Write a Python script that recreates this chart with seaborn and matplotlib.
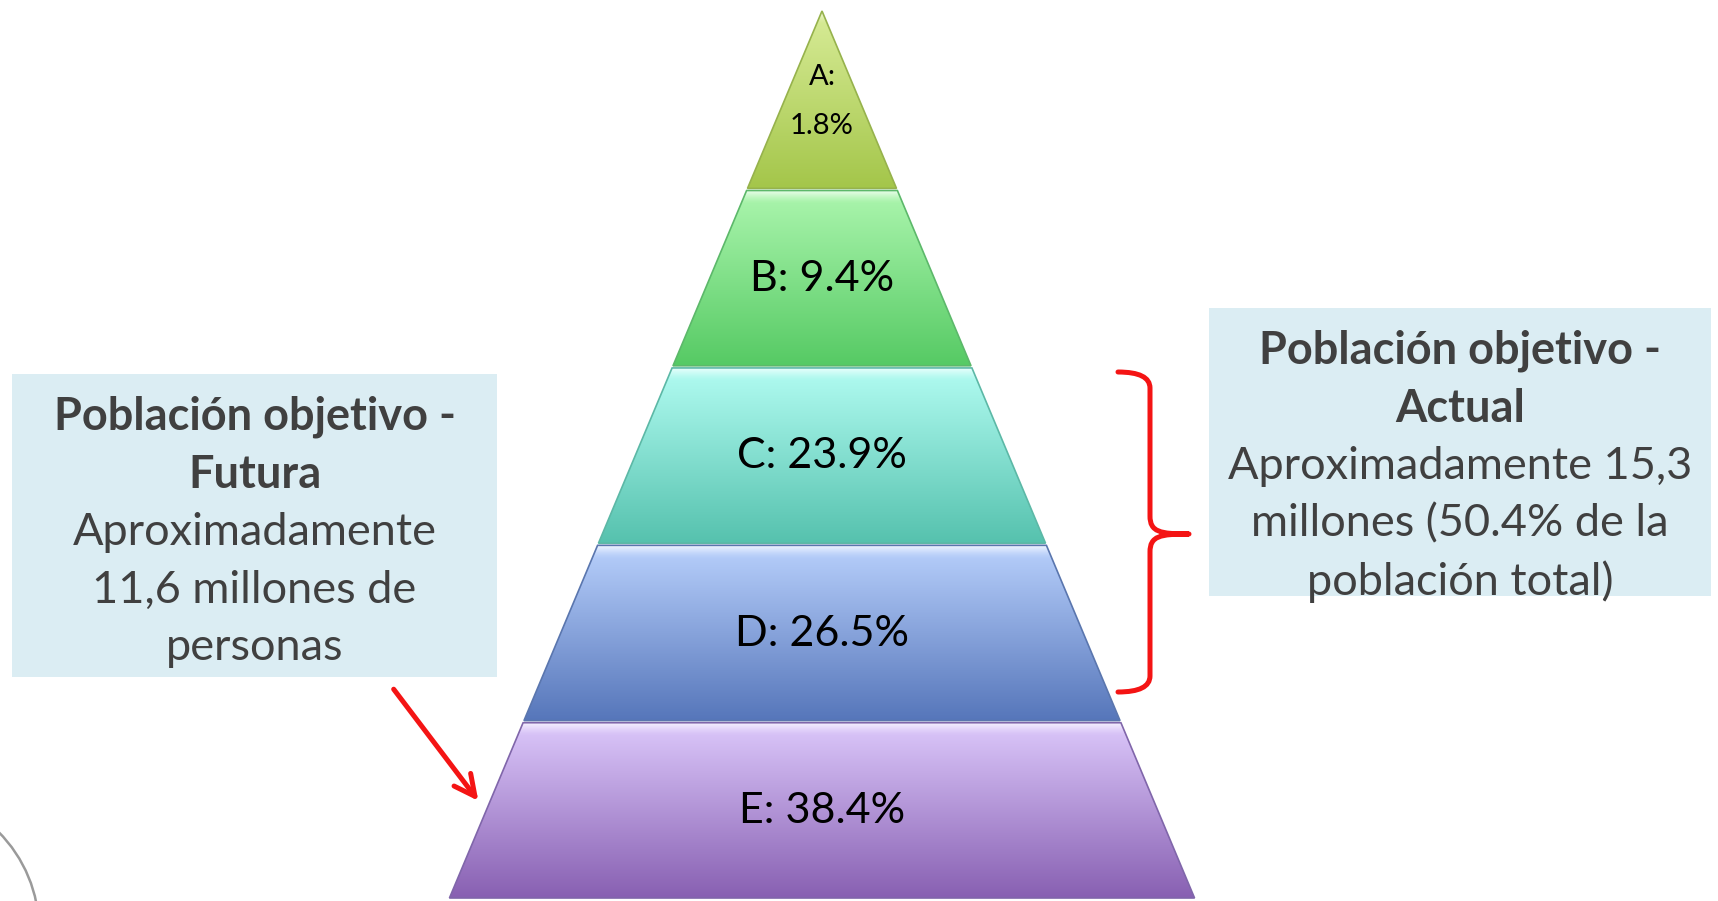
import numpy as np
import matplotlib
matplotlib.use("Agg")
import matplotlib.pyplot as plt
import seaborn as sns
from matplotlib.patches import Polygon, Rectangle, Circle, FancyArrowPatch, PathPatch
from matplotlib.path import Path

# ---------------- data ----------------
categories = ["A", "B", "C", "D", "E"]
values = [1.8, 9.4, 23.9, 26.5, 38.4]
top_colors = ["#d8ec98", "#acf6ae", "#b2fcf2", "#b8d0fc", "#dcc8fb"]
bottom_colors = ["#a4c64a", "#56ca64", "#56c2ae", "#5676ba", "#8860b2"]
edge_colors = ["#96b24c", "#5cb86a", "#5cb8a6", "#5a76ae", "#8066aa"]

left_title = ["Población objetivo -", "Futura"]
left_body = ["Aproximadamente", "11,6 millones de", "personas"]
right_title = ["Población objetivo -", "Actual"]
right_body = ["Aproximadamente 15,3", "millones (50.4% de la", "población total)"]

# ---------------- style ----------------
sns.set_theme(style="white")
plt.rcParams["font.family"] = ["Lato", "DejaVu Sans"]

W, H = 1718, 901
fig = plt.figure(figsize=(W / 100, H / 100), dpi=100)
fig.patch.set_facecolor("white")

# pyramid axes (units: one level = 1)
U = 177.4          # pixels per level
cx_px, base_px = 822, 898
ax = fig.add_axes([0, 0, 1, 1])
ax.set_xlim(-cx_px / U, (W - cx_px) / U)
ax.set_ylim(-(H - base_px) / U, base_px / U)
ax.axis("off")

n = len(categories)
slope = 0.42       # half-width per level
gap = 0.012

def hw(y):
    return slope * (n - y)

for i, (cat, val) in enumerate(zip(categories, values)):
    k = n - 1 - i            # level index from bottom
    y0 = k
    y1 = k + 1 - (gap if i > 0 else 0)
    if i == 0:
        verts = [(-hw(y0), y0), (hw(y0), y0), (0, y1)]
    else:
        verts = [(-hw(y0), y0), (hw(y0), y0), (hw(y1), y1), (-hw(y1), y1)]
    poly = Polygon(verts, closed=True, facecolor="none", edgecolor=edge_colors[i],
                   lw=1.2, zorder=3)
    ax.add_patch(poly)
    # gradient fill
    pal = sns.blend_palette([top_colors[i], bottom_colors[i]], n_colors=200)
    grad = np.array(pal)[:, None, :]
    # top bevel highlight
    hl = np.linspace(0.85, 0, 16) ** 1.5
    grad[:16, 0, :] = grad[:16, 0, :] * (1 - hl[:, None]) + hl[:, None]
    im = ax.imshow(grad, extent=(-hw(y0), hw(y0), y0, y1), origin="upper",
                   aspect="auto", zorder=2, interpolation="bilinear")
    clip = Polygon(verts, closed=True, transform=ax.transData)
    im.set_clip_path(clip)
    # labels
    yc = k + 0.5 - 0.01
    if i == 0:
        ax.text(0, yc + 0.14, f"{cat}:", ha="center", va="center", fontsize=21,
                color="black", zorder=4)
        ax.text(0, yc - 0.14, f"{val}%", ha="center", va="center", fontsize=21,
                color="black", zorder=4)
    else:
        ax.text(0, yc, f"{cat}: {val}%", ha="center", va="center", fontsize=31,
                color="black", zorder=4)

# overlay axes in pixel coordinates for callouts
ov = fig.add_axes([0, 0, 1, 1], facecolor="none")
ov.set_xlim(0, W)
ov.set_ylim(H, 0)
ov.axis("off")

box_color = "#dbedf3"
txt_color = "#404040"
line_gap = 57.7

def callout(x0, y0, x1, y1, first_line_y, title, body):
    ov.add_patch(Rectangle((x0, y0), x1 - x0, y1 - y0, facecolor=box_color,
                           edgecolor="none", zorder=1))
    xc = (x0 + x1) / 2
    for j, t in enumerate(title + body):
        ov.text(xc, first_line_y + j * line_gap, t, ha="center", va="center",
                fontsize=32.5, color=txt_color,
                fontweight="bold" if j < len(title) else "normal", zorder=2)

callout(12, 374, 497, 677, 417, left_title, left_body)
callout(1209, 308, 1711, 596, 351, right_title, right_body)

# red curly brace
bx, tipx = 1150, 1189
ytop, ymid, ybot, xend = 372, 534, 692, 1118
verts = [(xend, ytop), (bx, ytop), (bx, ytop + 16),
         (bx, ymid - 18),
         (bx, ymid - 2), (bx + 10, ymid), (tipx, ymid),
         (bx + 10, ymid), (bx, ymid + 2), (bx, ymid + 18),
         (bx, ybot - 16),
         (bx, ybot), (xend, ybot)]
codes = [Path.MOVETO, Path.CURVE3, Path.CURVE3,
         Path.LINETO,
         Path.CURVE4, Path.CURVE4, Path.CURVE4,
         Path.CURVE4, Path.CURVE4, Path.CURVE4,
         Path.LINETO,
         Path.CURVE3, Path.CURVE3]
ov.add_patch(PathPatch(Path(verts, codes), facecolor="none", edgecolor="#f41414",
                       lw=3.6, capstyle="round", joinstyle="round", zorder=3))

# red arrow
ov.add_patch(FancyArrowPatch((392, 687), (480, 803),
                             arrowstyle="->,head_length=15,head_width=7.5",
                             color="#f41414", lw=3.6, mutation_scale=1,
                             zorder=3))

# partial gray circle at bottom-left
ov.add_patch(Circle((-100, 930), 139, facecolor="none", edgecolor="#9a9a9a",
                    lw=1.8, zorder=1))

fig.savefig("out.png", dpi=100, facecolor="white")
